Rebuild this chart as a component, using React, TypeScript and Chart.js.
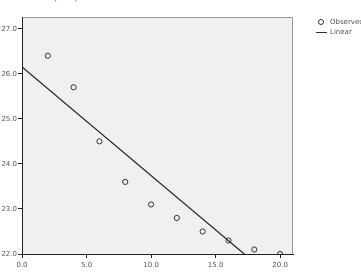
import React, { useEffect, useRef } from "react";
import { Chart, registerables } from "chart.js";

Chart.register(...registerables);

const observedX = [2, 4, 6, 8, 10, 12, 14, 16, 18, 20];
const observedY = [26.4, 25.7, 24.5, 23.6, 23.1, 22.8, 22.5, 22.3, 22.1, 22.0];
const linearX = [0, 21];
const linearY = [26.15, 21.09];
const seriesLabels = ["Observed", "Linear"];
const yTicks = [22, 23, 24, 25, 26, 27];
const xTicks = [0, 5, 10, 15, 20];

const plotBg = {
  id: "plotBg",
  beforeDraw(chart: any) {
    const { ctx, chartArea: a } = chart;
    ctx.save();
    ctx.fillStyle = "#f0f0f0";
    ctx.fillRect(a.left, a.top, a.right - a.left, a.bottom - a.top);
    ctx.strokeStyle = "#9a9a9a";
    ctx.lineWidth = 1;
    ctx.beginPath();
    ctx.moveTo(a.left, a.top + 0.5);
    ctx.lineTo(a.right - 0.5, a.top + 0.5);
    ctx.lineTo(a.right - 0.5, a.bottom);
    ctx.stroke();
    ctx.restore();
  },
  afterDraw(chart: any) {
    const { ctx } = chart;
    ctx.save();
    ctx.font = "7px 'DejaVu Sans'";
    ctx.fillStyle = "#555";
    ctx.textBaseline = "middle";
    ctx.textAlign = "left";
    ctx.strokeStyle = "#333";
    ctx.lineWidth = 1;
    ctx.beginPath();
    ctx.arc(321, 22, 2.5, 0, Math.PI * 2);
    ctx.stroke();
    ctx.fillText(seriesLabels[0], 330, 22.5);
    ctx.beginPath();
    ctx.moveTo(316, 32.5);
    ctx.lineTo(327, 32.5);
    ctx.stroke();
    ctx.fillText(seriesLabels[1], 330, 32);
    ctx.font = "11px 'DejaVu Sans'";
    ctx.fillStyle = "#777";
    ctx.textBaseline = "alphabetic";
    ctx.fillText("(", 53, 0);
    ctx.fillText(")", 74, 0);
    ctx.restore();
  },
};

export default function App() {
  const ref = useRef<HTMLCanvasElement>(null);
  useEffect(() => {
    const chart = new Chart(ref.current!, {
      type: "scatter",
      data: {
        datasets: [
          {
            label: seriesLabels[0],
            data: observedX.map((x, i) => ({ x, y: observedY[i] })),
            pointStyle: "circle",
            pointRadius: 2.6,
            pointBorderColor: "#333",
            pointBackgroundColor: "rgba(0,0,0,0)",
            pointBorderWidth: 1,
            showLine: false,
          },
          {
            label: seriesLabels[1],
            data: linearX.map((x, i) => ({ x, y: linearY[i] })),
            showLine: true,
            borderColor: "#222",
            borderWidth: 1.2,
            pointRadius: 0,
          } as any,
        ],
      },
      options: {
        animation: false,
        responsive: false,
        layout: { padding: { left: 0, top: 17, right: 68, bottom: 0 } },
        plugins: { legend: { display: false }, tooltip: { enabled: false } },
        scales: {
          x: {
            type: "linear",
            min: 0,
            max: 21,
            afterBuildTicks: (s: any) => {
              s.ticks = xTicks.map((v) => ({ value: v }));
            },
            afterFit: (s: any) => {
              s.height = 22;
            },
            ticks: {
              callback: (v: any) => Number(v).toFixed(1),
              font: { size: 7, family: "'DejaVu Sans'" },
              color: "#555",
              padding: 3,
              maxRotation: 0,
            },
            grid: { drawOnChartArea: false, drawTicks: true, tickLength: 4, color: "#222" },
            border: { color: "#222", width: 1 },
          },
          y: {
            type: "linear",
            min: 22,
            max: 27.26,
            afterBuildTicks: (s: any) => {
              s.ticks = yTicks.map((v) => ({ value: v }));
            },
            afterFit: (s: any) => {
              s.width = 22;
            },
            ticks: {
              callback: (v: any) => Number(v).toFixed(1),
              font: { size: 7, family: "'DejaVu Sans'" },
              color: "#555",
              padding: 1,
            },
            grid: { drawOnChartArea: false, drawTicks: true, tickLength: 4, color: "#222" },
            border: { color: "#222", width: 1 },
          },
        },
      },
      plugins: [plotBg],
    });
    return () => chart.destroy();
  }, []);
  return (
    <div style={{ position: "fixed", left: 0, top: 0, width: 361, height: 276, background: "#fff" }}>
      <canvas ref={ref} width={361} height={276} style={{ display: "block" }} />
    </div>
  );
}
